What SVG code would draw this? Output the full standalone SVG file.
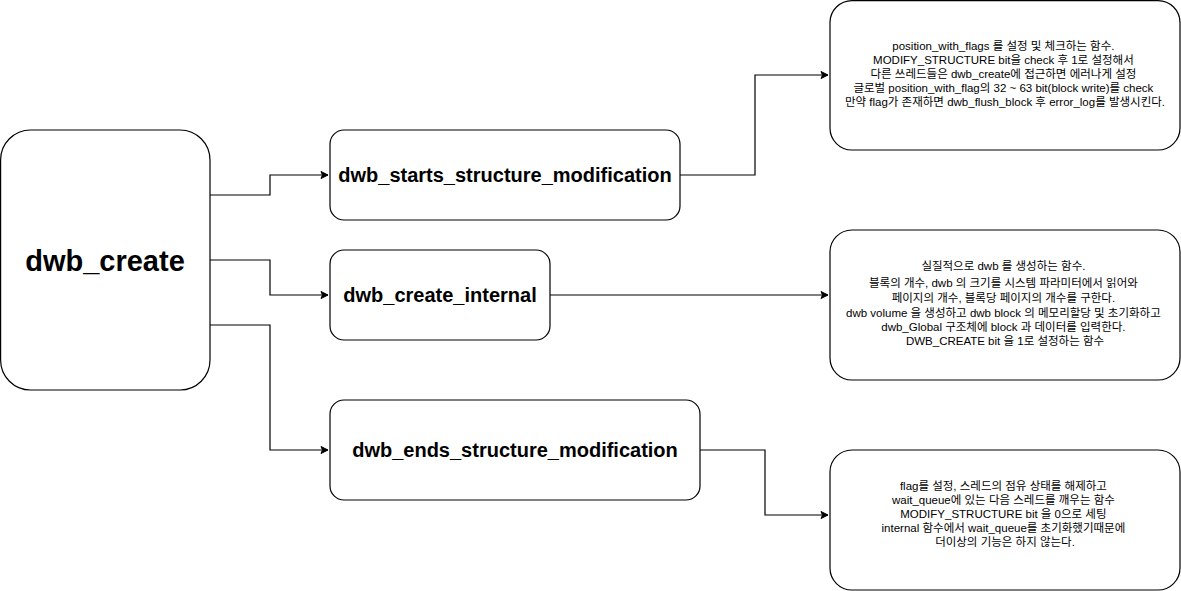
<svg xmlns="http://www.w3.org/2000/svg" width="1181" height="591" viewBox="0 0 1181 591">
<defs>
<marker id="arr" markerWidth="10" markerHeight="10" refX="8" refY="5" orient="auto" markerUnits="userSpaceOnUse">
<path d="M1,1.5 L8,5 L1,8.5 L2.5,5 Z" fill="#000" stroke="#000" stroke-width="1"/>
</marker>
<style>
.box{fill:#fff;stroke:#000;stroke-width:1.2}
.t{font-family:"Liberation Sans","Noto Sans CJK KR",sans-serif;text-anchor:middle;fill:#000}
.big{font-size:29px;font-weight:bold}
.mid{font-size:20px;font-weight:bold}
.sm{font-size:11.5px}
.c{fill:none;stroke:#000;stroke-width:1.2;marker-end:url(#arr)}
</style>
</defs>
<rect width="1181" height="591" fill="#fff"/>
<g id="connectors">
<path class="c" d="M210,195 H270 V175 H328"/>
<path class="c" d="M210,260 H270 V295 H328"/>
<path class="c" d="M210,325 H270 V450 H328"/>
<path class="c" d="M680,175 H755 V75 H828"/>
<path class="c" d="M550,295 H828"/>
<path class="c" d="M700,450 H765 V515 H828"/>
</g>
<g id="dwb_create">
<rect class="box" x="0.6" y="130" width="209.4" height="260" rx="30" ry="30"/>
<text class="t big" x="105" y="271">dwb_create</text>
</g>
<g id="dwb_starts_structure_modification">
<rect class="box" x="330" y="130" width="350" height="90" rx="14" ry="14"/>
<text class="t mid" x="505" y="182">dwb_starts_structure_modification</text>
</g>
<g id="dwb_create_internal">
<rect class="box" x="330" y="250" width="220" height="90" rx="14" ry="14"/>
<text class="t mid" x="440" y="302">dwb_create_internal</text>
</g>
<g id="dwb_ends_structure_modification">
<rect class="box" x="330" y="400" width="370" height="100" rx="14" ry="14"/>
<text class="t mid" x="515" y="457">dwb_ends_structure_modification</text>
</g>
<g id="note1">
<rect class="box" x="830" y="0.6" width="350" height="149.4" rx="22" ry="22"/>
<text class="t sm" x="1005">
<tspan x="1005" y="50">position_with_flags 를 설정 및 체크하는 함수.</tspan>
<tspan x="1005" y="64">MODIFY_STRUCTURE bit을 check 후 1로 설정해서</tspan>
<tspan x="1005" y="78">다른 쓰레드들은 dwb_create에 접근하면 에러나게 설정</tspan>
<tspan x="1005" y="92">글로벌 position_with_flag의 32 ~ 63 bit(block write)를 check</tspan>
<tspan x="1005" y="106">만약 flag가 존재하면 dwb_flush_block 후 error_log를 발생시킨다.</tspan>
</text>
</g>
<g id="note2">
<rect class="box" x="830" y="230" width="350" height="150" rx="22" ry="22"/>
<text class="t sm" x="1005">
<tspan x="1005" y="270">실질적으로 dwb 를 생성하는 함수.</tspan>
<tspan x="1005" y="287">블록의 개수, dwb 의 크기를 시스템 파라미터에서 읽어와</tspan>
<tspan x="1005" y="302">페이지의 개수, 블록당 페이지의 개수를 구한다.</tspan>
<tspan x="1005" y="317">dwb volume 을 생성하고 dwb block 의 메모리할당 및 초기화하고</tspan>
<tspan x="1005" y="331">dwb_Global 구조체에 block 과 데이터를 입력한다.</tspan>
<tspan x="1005" y="345">DWB_CREATE bit 을 1로 설정하는 함수</tspan>
</text>
</g>
<g id="note3">
<rect class="box" x="830" y="450" width="350" height="140" rx="22" ry="22"/>
<text class="t sm" x="1005">
<tspan x="1005" y="490">flag를 설정, 스레드의 점유 상태를 해제하고</tspan>
<tspan x="1005" y="504">wait_queue에 있는 다음 스레드를 깨우는 함수</tspan>
<tspan x="1005" y="518">MODIFY_STRUCTURE bit 을 0으로 세팅</tspan>
<tspan x="1005" y="532">internal 함수에서 wait_queue를 초기화했기때문에</tspan>
<tspan x="1005" y="546">더이상의 기능은 하지 않는다.</tspan>
</text>
</g>
</svg>
